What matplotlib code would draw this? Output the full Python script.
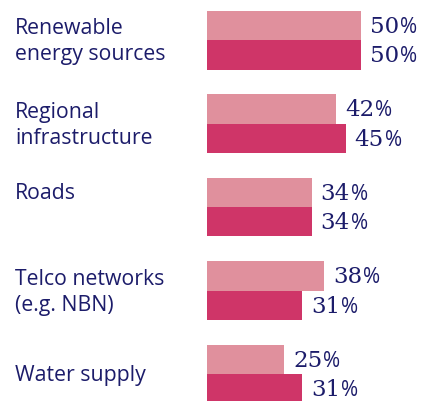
import matplotlib
matplotlib.use("Agg")
import matplotlib.pyplot as plt
import matplotlib.transforms as mtransforms
from matplotlib.offsetbox import TextArea, HPacker, AnnotationBbox

categories = ["Renewable\nenergy sources", "Regional\ninfrastructure", "Roads",
              "Telco networks\n(e.g. NBN)", "Water supply"]
series_light = [50, 42, 34, 38, 25]
series_dark = [50, 45, 34, 31, 31]

LIGHT = "#E0909D"
DARK = "#CF3568"
NAVY = "#1C1C6A"
SANS = "Open Sans"
SERIF = "DejaVu Serif"

W, H = 435, 401
fig = plt.figure(figsize=(W / 100, H / 100), dpi=100)
fig.patch.set_facecolor("white")

px_per_unit = 3.08
x0 = 207
ax = fig.add_axes([x0 / W, 0, 70 * px_per_unit / W, 1])
ax.set_xlim(0, 70)
spacing = 83.5
ax.set_ylim((H - 40) / spacing, -40 / spacing)
ax.axis("off")

bh = 29.5 / spacing
ys = list(range(len(categories)))
ax.barh([y - bh / 2 for y in ys], series_light, height=bh, color=LIGHT, linewidth=0)
ax.barh([y + bh / 2 for y in ys], series_dark, height=bh, color=DARK, linewidth=0)

# value labels: serif numerals + sans percent sign
def value_label(v, y):
    num = TextArea(f"{v}", textprops=dict(family=SERIF, size=16.5, color=NAVY))
    pct = TextArea("%", textprops=dict(family=SANS, size=15, color=NAVY))
    box = HPacker(children=[num, pct], align="baseline", pad=0, sep=0.5)
    ab = AnnotationBbox(box, (v, y), xybox=(6.5, -1), xycoords="data",
                        boxcoords="offset points", box_alignment=(0, 0.5),
                        frameon=False, pad=0, annotation_clip=False)
    ax.add_artist(ab)

for y, a, b in zip(ys, series_light, series_dark):
    value_label(a, y - bh / 2)
    value_label(b, y + bh / 2)

# category labels
trans = mtransforms.blended_transform_factory(fig.transFigure, ax.transData)
label_dy = [0, 0, -bh / 2, 0, 0]
for y, cat, dy in zip(ys, categories, label_dy):
    ax.text(15 / W, y + dy + 0.02, cat, transform=trans, family=SANS, size=15.3,
            color=NAVY, va="center", ha="left", linespacing=1.3, clip_on=False)

fig.savefig("out.png", dpi=100, facecolor="white")
